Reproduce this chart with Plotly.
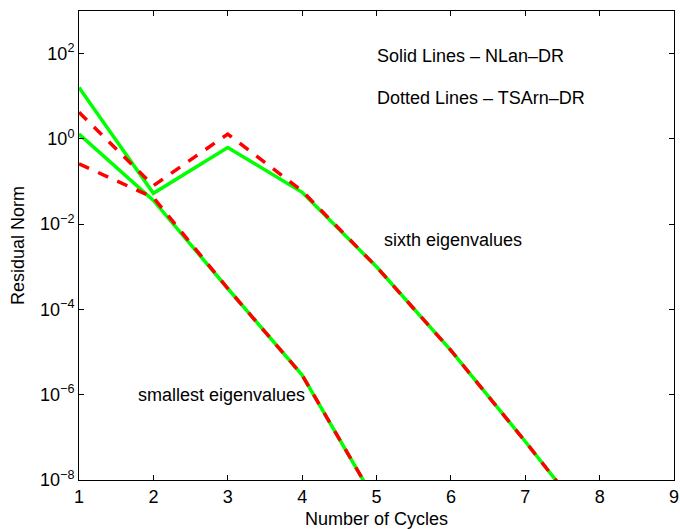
import math
import plotly.graph_objects as go

# Residual norms per restart cycle
cycles_sixth = [1, 2, 3, 4, 5, 6, 7, 8]
nlan_sixth = [16.0, 0.053, 0.63, 0.056, 1.0e-3, 1.1e-5, 8.0e-8, 5.0e-10]
tsarn_sixth = [4.2, 0.08, 1.3, 0.06, 1.0e-3, 1.1e-5, 8.0e-8, 5.0e-10]

cycles_smallest = [1, 2, 3, 4, 5]
nlan_smallest = [1.3, 0.036, 3.1e-4, 2.9e-6, 2.9e-9]
tsarn_smallest = [0.26, 0.042, 3.1e-4, 2.9e-6, 2.9e-9]

y_tick_vals = [1e-8, 1e-6, 1e-4, 1e-2, 1e0, 1e2]
y_tick_text = ["10<sup>−8</sup>", "10<sup>−6</sup>", "10<sup>−4</sup>",
               "10<sup>−2</sup>", "10<sup>0</sup>", "10<sup>2</sup>"]
x_tick_vals = [1, 2, 3, 4, 5, 6, 7, 8, 9]

GREEN = "#00FF00"
RED = "#FF0000"
FONT = "Liberation Sans, Arial, Helvetica, sans-serif"
FS = 18

fig = go.Figure()
for cx, cy in [(cycles_sixth, nlan_sixth), (cycles_smallest, nlan_smallest)]:
    fig.add_trace(go.Scatter(x=cx, y=cy, mode="lines",
                             line=dict(color=GREEN, width=3.5), showlegend=False))
for cx, cy in [(cycles_sixth, tsarn_sixth), (cycles_smallest, tsarn_smallest)]:
    fig.add_trace(go.Scatter(x=cx, y=cy, mode="lines",
                             line=dict(color=RED, width=3.5, dash="11px,10px"),
                             showlegend=False))

notes = [
    ("Solid Lines – NLan–DR", 4.98, 10 ** 1.94),
    ("Dotted Lines – TSArn–DR", 4.98, 10 ** 0.97),
    ("sixth eigenvalues", 5.07, 10 ** -2.38),
    ("smallest eigenvalues", 1.76, 10 ** -6.0),
]
for txt, nx, ny in notes:
    fig.add_annotation(x=nx, y=math.log10(ny), text=txt,
                       showarrow=False, xanchor="left", yanchor="middle",
                       font=dict(family=FONT, size=FS, color="black"))

axis_common = dict(showline=True, linecolor="black", linewidth=1, mirror="ticks",
                   ticks="inside", ticklen=5, tickcolor="black", tickwidth=1,
                   showgrid=False, zeroline=False, automargin=False,
                   tickfont=dict(family=FONT, size=FS, color="black"))

fig.update_xaxes(range=[1, 9], tickvals=x_tick_vals,
                 title=dict(text="Number of Cycles", standoff=6,
                            font=dict(family=FONT, size=FS, color="black")),
                 **axis_common)
fig.update_yaxes(type="log", range=[-8, 3], tickvals=y_tick_vals, ticktext=y_tick_text,
                 title=dict(text="Residual Norm", standoff=10,
                            font=dict(family=FONT, size=FS, color="black")),
                 **axis_common)

fig.update_layout(width=680, height=529, plot_bgcolor="white", paper_bgcolor="white",
                  margin=dict(l=79, r=6, t=11, b=49))

fig.write_html("out.html")
